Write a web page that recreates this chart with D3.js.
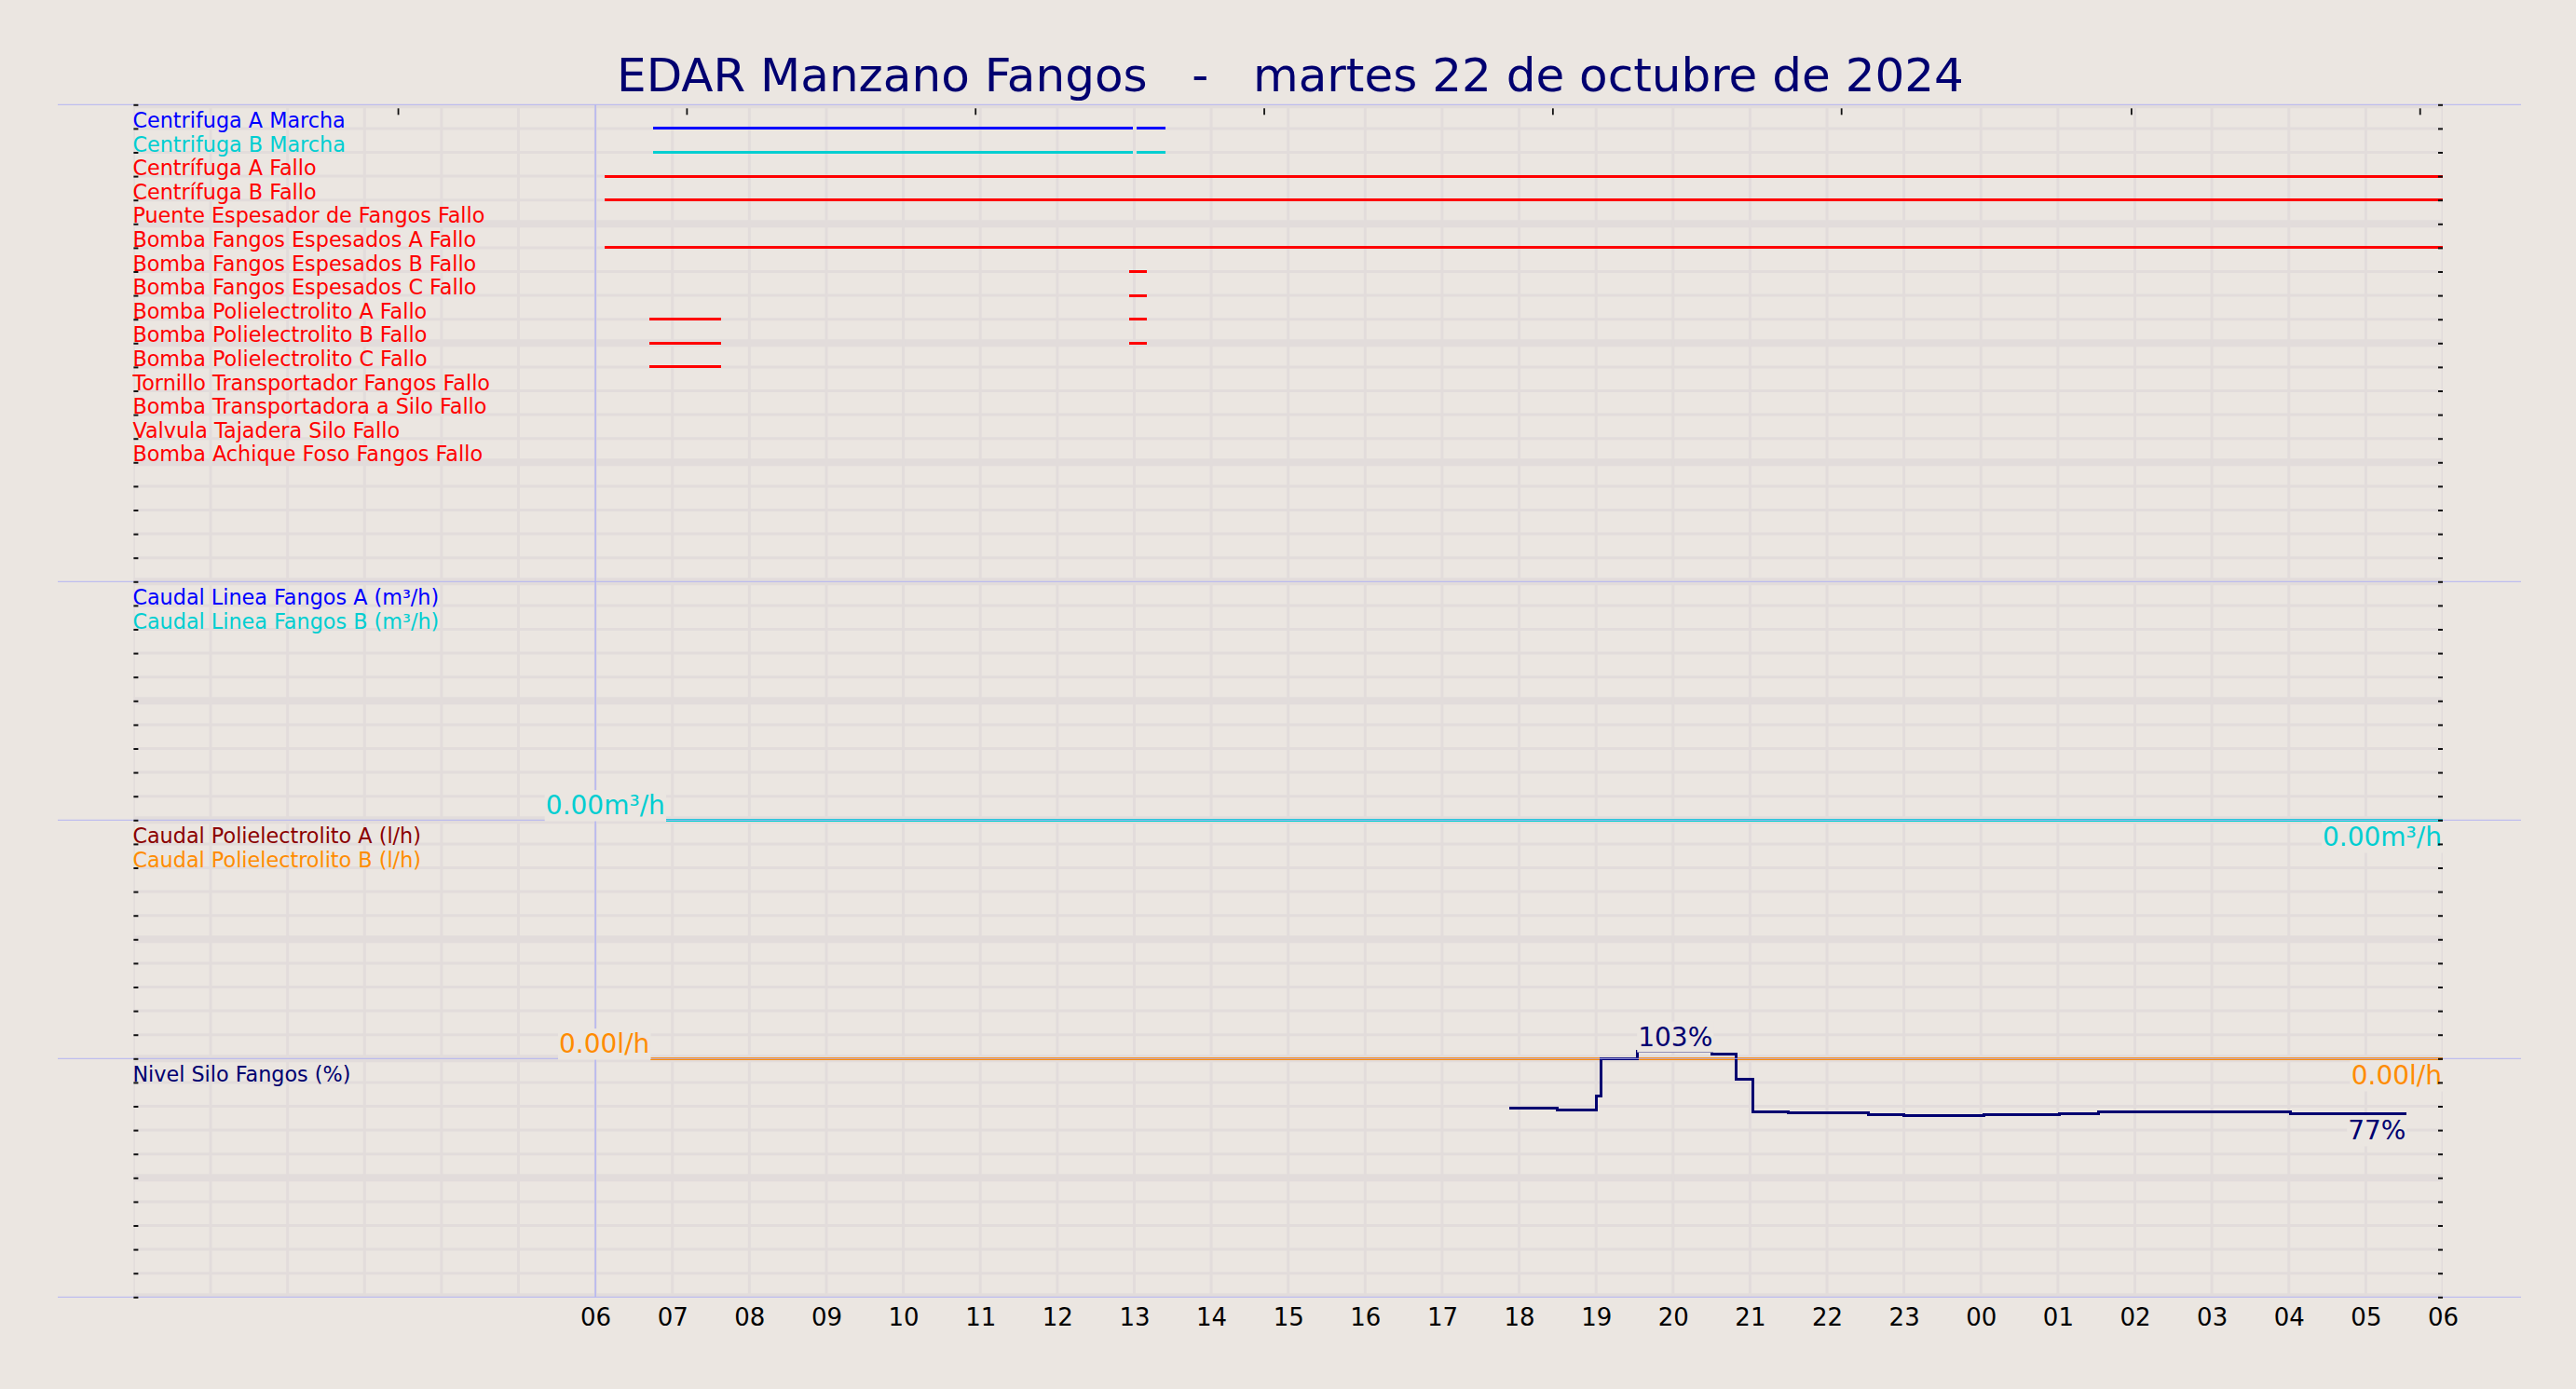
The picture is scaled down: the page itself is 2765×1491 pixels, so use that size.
<!DOCTYPE html>
<html>
<head>
<meta charset="utf-8">
<script src="https://cdn.jsdelivr.net/npm/d3@7"></script>
<style>
html, body { margin: 0; padding: 0; background: #ebe6e1; }
svg { display: block; font-family: "DejaVu Sans", sans-serif; }
</style>
</head>
<body>
<div id="chart"></div>
<script>
// ---- data ----
var chartTitle = "EDAR Manzano Fangos   -   martes 22 de octubre de 2024";

var hourLabels = ["06","07","08","09","10","11","12","13","14","15","16","17","18",
                  "19","20","21","22","23","00","01","02","03","04","05","06"];

var topTickTimes = ["2024-10-22 03:26","2024-10-22 07:11","2024-10-22 10:56","2024-10-22 14:41",
                    "2024-10-22 18:26","2024-10-22 22:11","2024-10-23 01:57","2024-10-23 05:42"];

var digitalNames = ["Centrifuga A Marcha", "Centrifuga B Marcha", "Centrífuga A Fallo", "Centrífuga B Fallo",
                    "Puente Espesador de Fangos Fallo", "Bomba Fangos Espesados A Fallo",
                    "Bomba Fangos Espesados B Fallo", "Bomba Fangos Espesados C Fallo",
                    "Bomba Polielectrolito A Fallo", "Bomba Polielectrolito B Fallo",
                    "Bomba Polielectrolito C Fallo", "Tornillo Transportador Fangos Fallo",
                    "Bomba Transportadora a Silo Fallo", "Valvula Tajadera Silo Fallo",
                    "Bomba Achique Foso Fangos Fallo"];

// periods where each signal is on [start, end]
var digitalOn = [
    [["2024-10-22 06:45","2024-10-22 12:59"], ["2024-10-22 13:02","2024-10-22 13:24"]],
    [["2024-10-22 06:45","2024-10-22 12:59"], ["2024-10-22 13:02","2024-10-22 13:24"]],
    [["2024-10-22 06:07","2024-10-23 06:00"]],
    [["2024-10-22 06:07","2024-10-23 06:00"]],
    [],
    [["2024-10-22 06:07","2024-10-23 06:00"]],
    [["2024-10-22 12:56","2024-10-22 13:10"]],
    [["2024-10-22 12:56","2024-10-22 13:10"]],
    [["2024-10-22 06:42","2024-10-22 07:38"], ["2024-10-22 12:56","2024-10-22 13:10"]],
    [["2024-10-22 06:42","2024-10-22 07:38"], ["2024-10-22 12:56","2024-10-22 13:10"]],
    [["2024-10-22 06:42","2024-10-22 07:38"]],
    [],
    [],
    [],
    []
];

var caudalLineaNames = ["Caudal Linea Fangos A (m³/h)", "Caudal Linea Fangos B (m³/h)"];
var caudalLineaA = [["2024-10-22 06:55", 0], ["2024-10-23 06:00", 0]];
var caudalLineaB = [["2024-10-22 06:55", 0], ["2024-10-23 06:00", 0]];

var caudalPoliNames = ["Caudal Polielectrolito A (l/h)", "Caudal Polielectrolito B (l/h)"];
var caudalPoliA = [["2024-10-22 06:43", 0], ["2024-10-23 06:00", 0]];
var caudalPoliB = [["2024-10-22 06:43", 0], ["2024-10-23 06:00", 0]];

var nivelNames = ["Nivel Silo Fangos (%)"];
var nivelSilo = [
    ["2024-10-22 17:52", 79.1], ["2024-10-22 18:30", 78.4], ["2024-10-22 19:00", 84.2],
    ["2024-10-22 19:04", 100.0], ["2024-10-22 19:32", 103.0], ["2024-10-22 20:30", 101.8],
    ["2024-10-22 20:49", 91.3], ["2024-10-22 21:02", 77.6], ["2024-10-22 21:30", 77.1],
    ["2024-10-22 22:32", 76.5], ["2024-10-22 23:00", 76.1], ["2024-10-23 00:02", 76.5],
    ["2024-10-23 01:01", 76.9], ["2024-10-23 01:32", 77.5], ["2024-10-23 04:01", 76.9],
    ["2024-10-23 05:32", 76.9]
];

// ---- styles ----
var bgColor = "#ebe6e1",
    gridColor = "#e2dcdb",
    sepColor = "#b3b3f2",
    navy = "#000070";
var digitalColors = ["#0000ff", "#00ced1"].concat(d3.range(13).map(function() { return "#ff0000"; }));

var W = 2765, H = 1491;
var plot = {left: 143.4, right: 2622, top: 112.3, bottom: 1392.3};

var parse = d3.timeParse("%Y-%m-%d %H:%M");
var tStart = parse("2024-10-22 00:00"),
    tEnd = parse("2024-10-23 06:00"),
    tDay = parse("2024-10-22 06:00");

// one time scale, one level scale for the whole stacked chart (50 levels)
var x = d3.scaleTime().domain([tStart, tEnd]).range([plot.left, plot.right]);
var y = d3.scaleLinear().domain([0, 50]).range([plot.bottom, plot.top]);

var svg = d3.select("#chart").append("svg")
    .attr("width", W).attr("height", H);

svg.append("rect").attr("width", W).attr("height", H).attr("fill", bgColor);

svg.append("clipPath").attr("id", "plotclip")
  .append("rect")
    .attr("x", plot.left).attr("y", plot.top)
    .attr("width", plot.right - plot.left).attr("height", plot.bottom - plot.top);

// grid
var grid = svg.append("g").attr("clip-path", "url(#plotclip)");
grid.selectAll("line.h")
    .data(d3.range(0, 51))
  .enter().append("line")
    .attr("class", "h")
    .attr("x1", plot.left).attr("x2", plot.right)
    .attr("y1", function(d) { return y(d); })
    .attr("y2", function(d) { return y(d); })
    .attr("stroke", gridColor)
    .attr("stroke-width", function(d) { return d % 5 == 0 ? 8 : 3; });

grid.selectAll("line.v")
    .data(d3.timeHour.range(tStart, d3.timeHour.offset(tEnd, 1)))
  .enter().append("line")
    .attr("class", "v")
    .attr("x1", function(d) { return x(d); })
    .attr("x2", function(d) { return x(d); })
    .attr("y1", plot.top).attr("y2", plot.bottom)
    .attr("stroke", gridColor)
    .attr("stroke-width", 3);

// start of day marker
svg.append("line")
    .attr("x1", x(tDay)).attr("x2", x(tDay))
    .attr("y1", plot.top).attr("y2", plot.bottom)
    .attr("stroke", sepColor).attr("stroke-width", 1.5);

// digital signals: a line on their own level while on
var segLine = d3.line()
    .x(function(d) { return x(d[0]); })
    .y(function(d) { return y(d[1]); });

digitalNames.forEach(function(name, i) {
    var level = 49 - i;
    digitalOn[i].forEach(function(p) {
        svg.append("path")
            .datum([[parse(p[0]), level], [parse(p[1]), level]])
            .attr("fill", "none")
            .attr("stroke", digitalColors[i])
            .attr("stroke-width", 3)
            .attr("shape-rendering", "crispEdges")
            .attr("d", segLine);
    });
});

// analog panels
var panels = [
    {names: caudalLineaNames, series: [caudalLineaA, caudalLineaB], colors: ["#0000ff", "#00ced1"],
     base: 20, max: 10, fmt: function(v) { return d3.format(".2f")(v) + "m³/h"; }},
    {names: caudalPoliNames, series: [caudalPoliA, caudalPoliB], colors: ["#8b0000", "#ff8c00"],
     base: 10, max: 10, fmt: function(v) { return d3.format(".2f")(v) + "l/h"; }},
    {names: nivelNames, series: [nivelSilo], colors: [navy],
     base: 0, max: 100, fmt: function(v) { return d3.format(".0f")(v) + "%"; }}
];

var labelJobs = [];
panels.forEach(function(p) {
    var vy = d3.scaleLinear().domain([0, p.max]).range([y(p.base), y(p.base + 10)]);
    var line = d3.line()
        .x(function(d) { return x(parse(d[0])); })
        .y(function(d) { return vy(d[1]); })
        .curve(d3.curveStepAfter);
    p.series.forEach(function(s, j) {
        svg.append("path")
            .datum(s)
            .attr("fill", "none")
            .attr("stroke", p.colors[j])
            .attr("stroke-width", 3)
            .attr("shape-rendering", "crispEdges")
            .attr("d", line);
        var iMax = d3.maxIndex(s, function(d) { return d[1]; });
        var last = s[s.length - 1];
        labelJobs.push({text: p.fmt(s[iMax][1]), x: x(parse(s[iMax][0])) + (iMax == 0 ? -1 : 1),
                        y: vy(s[iMax][1]) - 6, anchor: iMax == 0 ? "end" : "start", color: p.colors[j]});
        labelJobs.push({text: p.fmt(last[1]), x: x(parse(last[0])) - 1,
                        y: vy(last[1]) + 28, anchor: "end", color: p.colors[j]});
    });
});

// panel separators
svg.selectAll("line.sep")
    .data([0, 10, 20, 30, 50])
  .enter().append("line")
    .attr("class", "sep")
    .attr("x1", 62).attr("x2", 2706)
    .attr("y1", function(d) { return y(d); })
    .attr("y2", function(d) { return y(d); })
    .attr("stroke", sepColor).attr("stroke-width", 1);

// value labels with a background box
labelJobs.forEach(function(l) {
    var g = svg.append("g");
    var t = g.append("text")
        .attr("x", l.x).attr("y", l.y)
        .attr("text-anchor", l.anchor)
        .attr("font-size", 28)
        .attr("fill", l.color)
        .text(l.text);
    var b = t.node().getBBox();
    g.insert("rect", "text")
        .attr("x", b.x - 1).attr("y", b.y)
        .attr("width", b.width + 2).attr("height", b.height)
        .attr("fill", bgColor);
});

// ticks: left and right at every level, top without labels
svg.append("g")
    .attr("transform", "translate(" + plot.left + ",0)")
    .call(d3.axisLeft(y).tickValues(d3.range(0, 51)).tickSize(-5).tickFormat(""))
    .call(function(g) { g.select(".domain").remove(); })
    .selectAll("line").attr("stroke", "#111").attr("stroke-width", 2);

svg.append("g")
    .attr("transform", "translate(" + plot.right + ",0)")
    .call(d3.axisRight(y).tickValues(d3.range(0, 51)).tickSize(-5).tickFormat(""))
    .call(function(g) { g.select(".domain").remove(); })
    .selectAll("line").attr("stroke", "#111").attr("stroke-width", 2);

svg.append("g")
    .attr("transform", "translate(0," + (plot.top + 4) + ")")
    .call(d3.axisTop(x).tickValues(topTickTimes.map(parse)).tickSize(-7).tickFormat(""))
    .call(function(g) { g.select(".domain").remove(); })
    .selectAll("line").attr("stroke", "#111").attr("stroke-width", 1.8);

// hour labels
var hourTicks = hourLabels.map(function(h, i) { return d3.timeHour.offset(tDay, i); });
svg.append("g")
    .attr("transform", "translate(0," + plot.bottom + ")")
    .call(d3.axisBottom(x).tickValues(hourTicks).tickSize(0).tickPadding(12.5)
            .tickFormat(function(d, i) { return hourLabels[i]; }))
    .call(function(g) { g.select(".domain").remove(); })
    .selectAll("text")
        .attr("font-family", "DejaVu Sans")
        .attr("font-size", 26)
        .attr("fill", "#000");

// row and panel labels
var labelRows = [];
digitalNames.forEach(function(n, i) { labelRows.push({text: n, level: 49 - i, color: digitalColors[i]}); });
panels.forEach(function(p) {
    p.names.forEach(function(n, j) { labelRows.push({text: n, level: p.base + 9 - j, color: p.colors[j]}); });
});
svg.selectAll("text.row")
    .data(labelRows)
  .enter().append("text")
    .attr("class", "row")
    .attr("x", plot.left - 1)
    .attr("y", function(d) { return y(d.level) - 1; })
    .attr("font-size", 22.3)
    .attr("fill", function(d) { return d.color; })
    .text(function(d) { return d.text; });

// title
svg.append("text")
    .attr("x", 1385).attr("y", 98)
    .attr("text-anchor", "middle")
    .attr("font-size", 50)
    .attr("fill", navy)
    .style("white-space", "pre")
    .text(chartTitle);
</script>
</body>
</html>
